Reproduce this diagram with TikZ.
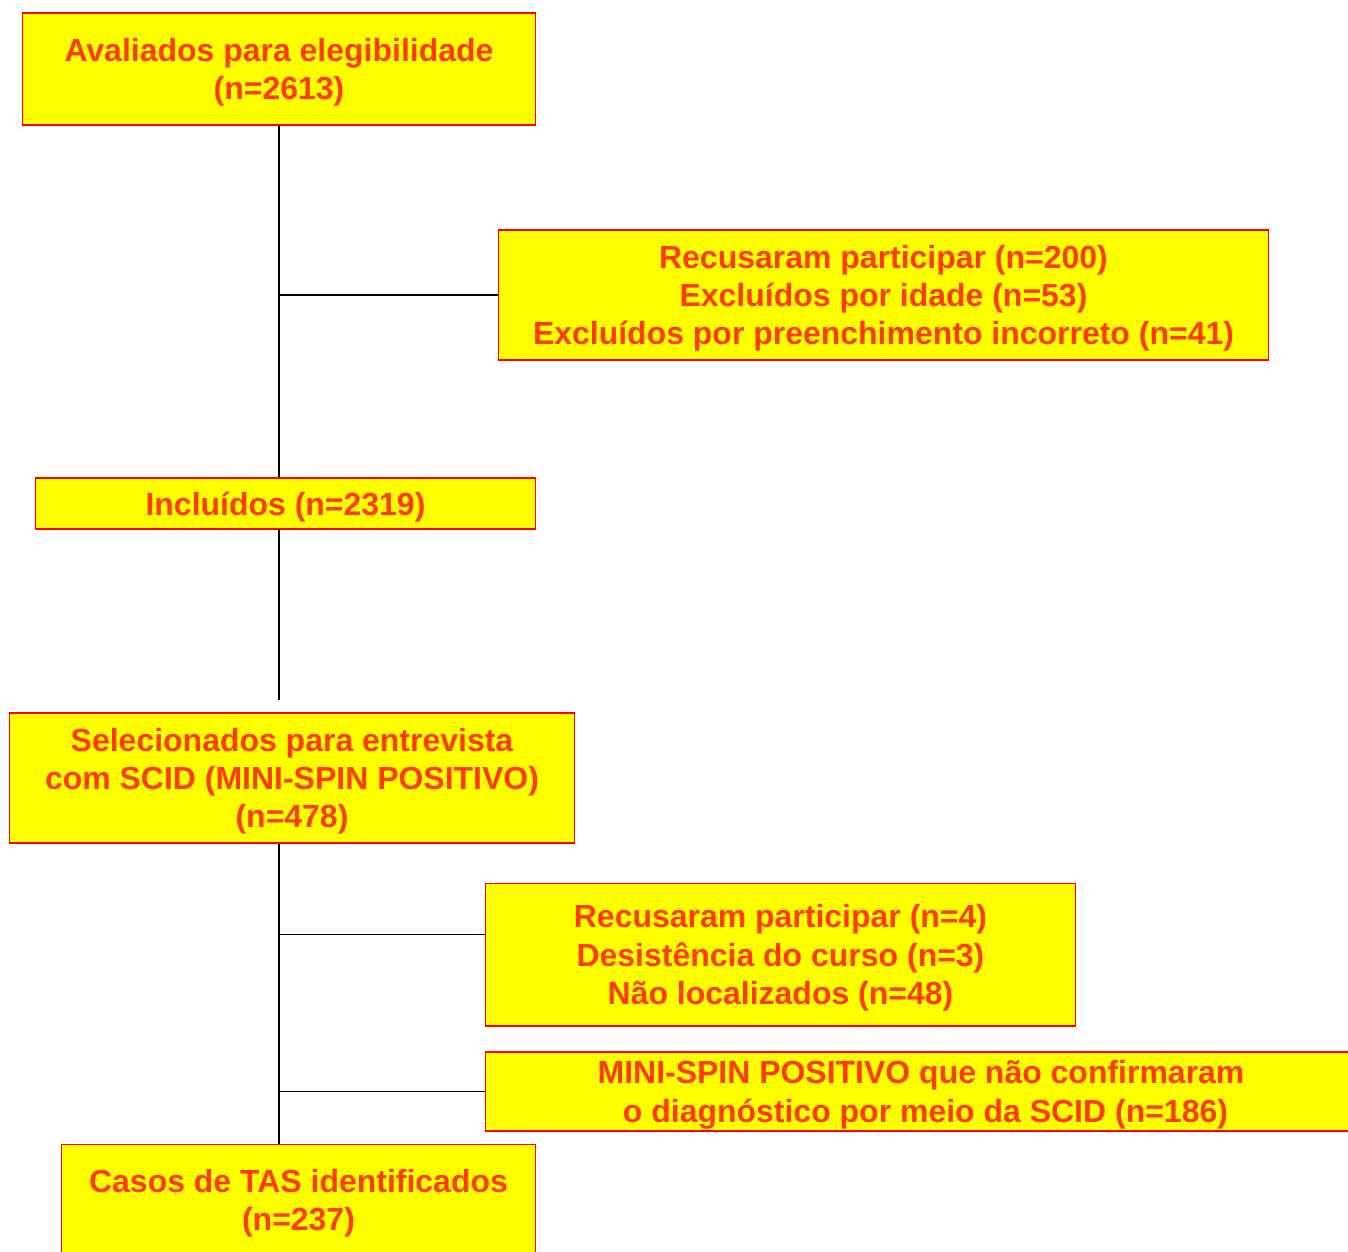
\documentclass[tikz,border=0pt]{standalone}
\usepackage{fontspec}
\setmainfont{Liberation Sans}
\definecolor{caixaamarela}{RGB}{255,255,0}
\definecolor{textolaranja}{RGB}{255,60,0}
\begin{document}
\begin{tikzpicture}[x=0.02cm,y=-0.02cm,
  caixa/.style={draw=red,line width=0.6pt,fill=caixaamarela,text=textolaranja,
    font=\fontsize{18.2}{21.8}\selectfont\bfseries,align=center,inner sep=0pt,text depth=0pt},
  linha/.style={line width=0.8pt}]
\useasboundingbox (0,0) rectangle (1348,1251);
\begin{scope}
\clip (0,0) rectangle (1348,1251);
\node[caixa,minimum width=10.28cm,minimum height=2.24cm] (avaliados) at (279,69) {Avaliados para elegibilidade\\(n=2613)};
\node[caixa,minimum width=15.42cm,minimum height=2.6cm] (recusaram) at (883.5,295) {Recusaram participar (n=200)\\Excluídos por idade (n=53)\\Excluídos por preenchimento incorreto (n=41)};
\node[caixa,minimum width=10.02cm,minimum height=1.02cm] (incluidos) at (285.5,503.5) {Incluídos (n=2319)};
\node[caixa,minimum width=11.32cm,minimum height=2.6cm] (selecionados) at (292,778) {Selecionados para entrevista\\com SCID (MINI-SPIN POSITIVO)\\(n=478)};
\node[caixa,minimum width=11.82cm,minimum height=2.86cm] (perdas) at (780.5,954.5) {Recusaram participar (n=4)\\Desistência do curso (n=3)\\Não localizados (n=48)};
\node[caixa,minimum width=17.44cm,minimum height=1.58cm] (naoconfirmados) at (921,1091.5) {MINI-SPIN POSITIVO que não confirmaram\\\ o diagnóstico por meio da SCID (n=186)};
\node[caixa,minimum width=9.5cm,minimum height=2.24cm] (casos) at (298.5,1200) {Casos de TAS identificados\\(n=237)};
\end{scope}
\coordinate (fim) at (279,700);
\draw[linha] (avaliados.south) -- (avaliados.south |- incluidos.north);
\draw[linha] (avaliados.south |- recusaram.west) -- (recusaram.west);
\draw[linha] (avaliados.south |- incluidos.south) -- (fim);
\draw[linha] (avaliados.south |- selecionados.south) -- (avaliados.south |- casos.north);
\draw[linha] ([yshift=0.4cm]avaliados.south |- perdas.west) -- ([yshift=0.4cm]perdas.west);
\draw[linha] (avaliados.south |- naoconfirmados.west) -- (naoconfirmados.west);
\end{tikzpicture}
\end{document}
